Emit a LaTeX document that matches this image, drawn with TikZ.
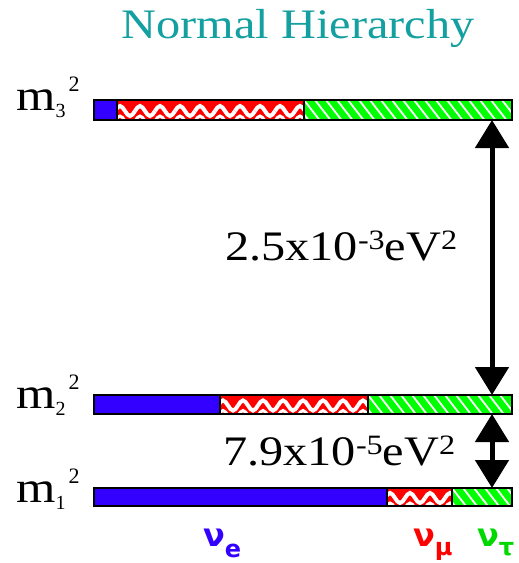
\documentclass[tikz,border=0pt]{standalone}
\usepackage{fontspec}
\setmainfont{Liberation Serif}
\newfontfamily\nufont{DejaVu Sans}
\usetikzlibrary{arrows.meta}
\definecolor{nblue}{RGB}{51,0,255}
\definecolor{nred}{RGB}{255,0,0}
\definecolor{ngreen}{RGB}{0,255,0}
\definecolor{tealtitle}{RGB}{20,160,160}
\newcommand{\wide}[1]{\scalebox{1.15}[1]{#1}}
\newcommand{\mlab}[1]{\wide{m}\raisebox{-7pt}{\fontsize{20}{20}\selectfont #1}\hspace{3pt}\raisebox{19pt}{\fontsize{22}{22}\selectfont 2}}
\newcommand{\supx}[1]{\raisebox{11pt}{\fontsize{28}{28}\selectfont #1}}
\newcommand{\bluebar}[4]{\fill[nblue] (#1,#2) rectangle (#3,#4); \draw[barline] (#1,#2) rectangle (#3,#4);}
\newcommand{\redbar}[4]{%
  \begin{scope}
    \clip (#1,#2) rectangle (#3,#4);
    \fill[nred] (#1,#2) rectangle (#3,#4);
    \pgfmathsetmacro{\midy}{(#2+#4)/2}
    \foreach \k in {0,...,11}{
      \draw[white, line width=4pt] (#1-2+20*\k,\midy+1) sin ++(5,-5) cos ++(5,5) sin ++(5,5) cos ++(5,-5);
      \draw[white, line width=3pt] (#1-2+20*\k,\midy+11) sin ++(5,-5) cos ++(5,5) sin ++(5,5) cos ++(5,-5);
    }
  \end{scope}
  \draw[barline] (#1,#2) rectangle (#3,#4);}
\newcommand{\greenbar}[4]{%
  \begin{scope}
    \clip (#1,#2) rectangle (#3,#4);
    \fill[ngreen] (#1,#2) rectangle (#3,#4);
    \foreach \k in {-3,...,22}{
      \draw[white, line width=1.8pt] (#1+11*\k,#2) -- ++(17,22);
    }
  \end{scope}
  \draw[barline] (#1,#2) rectangle (#3,#4);}
\tikzset{
  barline/.style={draw=black, line width=1.6pt},
  masslabel/.style={anchor=base west, inner sep=0pt, font=\fontsize{44}{44}\selectfont},
  splitlabel/.style={anchor=base west, inner sep=0pt, font=\fontsize{42}{42}\selectfont},
  nulabel/.style={anchor=base west, inner sep=0pt, font=\nufont\bfseries\fontsize{32}{32}\selectfont},
  dbl/.style={line width=5pt, {Triangle[width=33pt,length=28pt]}-{Triangle[width=33pt,length=28pt]}}
}
\begin{document}
\begin{tikzpicture}[x=1pt,y=-1pt]
\useasboundingbox (0,0) rectangle (519,563);
% title
\node[anchor=base, inner sep=0pt, font=\fontsize{42}{42}\selectfont, text=tealtitle] (title) at (298,38) {\wide{Normal Hierarchy}};
% mass labels
\node[masslabel] (m3) at (16,110) {\mlab{3}};
\node[masslabel] (m2) at (16,408) {\mlab{2}};
\node[masslabel] (m1) at (16,502) {\mlab{1}};
% bars
\bluebar{94}{100}{117}{120}
\redbar{117}{100}{304}{120}
\greenbar{304}{100}{512}{120}
\bluebar{94}{395}{220}{414}
\redbar{220}{395}{368}{414}
\greenbar{368}{395}{512}{414}
\bluebar{94}{488}{387}{506}
\redbar{387}{488}{452}{506}
\greenbar{452}{488}{512}{506}
% arrows
\coordinate (a3) at (492,120);
\coordinate (a2t) at (492,395);
\coordinate (a2b) at (492,414);
\coordinate (a1) at (492,488);
\draw[dbl] (a3) -- (a2t);
\draw[dbl] (a2b) -- (a1);
% splittings
\node[splitlabel] (atm) at (225,260) {\wide{2.5x10\supx{-3}eV\supx{2}}};
\node[splitlabel] (sol) at (223,465) {\wide{7.9x10\supx{-5}eV\supx{2}}};
% flavour labels
\node[nulabel, text=nblue] (nue) at (203,546) {ν\raisebox{-11pt}{\fontsize{24}{24}\selectfont e}};
\node[nulabel, text=nred] (num) at (413,546) {ν\raisebox{-9pt}{\fontsize{24}{24}\selectfont μ}};
\node[nulabel, text=ngreen!85!black] (nut) at (477,546) {ν\raisebox{-9pt}{\fontsize{24}{24}\selectfont τ}};
\end{tikzpicture}
\end{document}
